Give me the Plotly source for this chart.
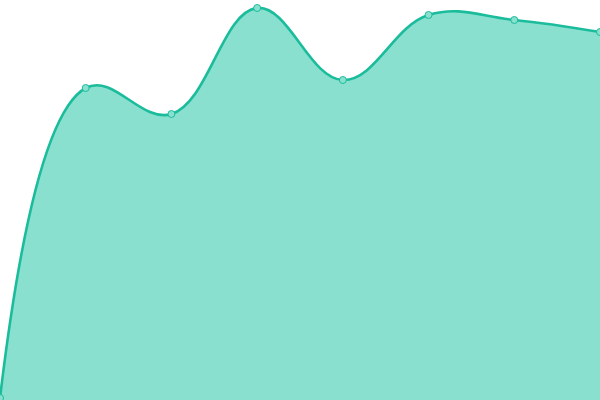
import plotly.graph_objects as go

# chart data (axis hidden)
steps = [0, 1, 2, 3, 4, 5, 6, 7]
values = [2, 312, 286, 392, 320, 385, 380, 368]

line_color = "#1abc9c"
fill_color = "#89e0cf"

fig = go.Figure(go.Scatter(
    x=steps,
    y=values,
    mode="lines+markers",
    line=dict(color=line_color, width=2.6, shape="spline", smoothing=1.15),
    marker=dict(size=7, color=fill_color, line=dict(color=line_color, width=1)),
    fill="tozeroy",
    fillcolor=fill_color,
    hoverinfo="skip",
))

fig.update_layout(
    width=600, height=400,
    margin=dict(l=0, r=0, t=0, b=0),
    paper_bgcolor="white",
    plot_bgcolor="white",
    showlegend=False,
    xaxis=dict(range=[0, 7], visible=False),
    yaxis=dict(range=[0, 400], visible=False),
)

# drop the default page margin so the chart sits at the window corner
fig.write_html(
    "out.html",
    config={"displayModeBar": False},
    post_script="document.body.style.margin='0';",
)
